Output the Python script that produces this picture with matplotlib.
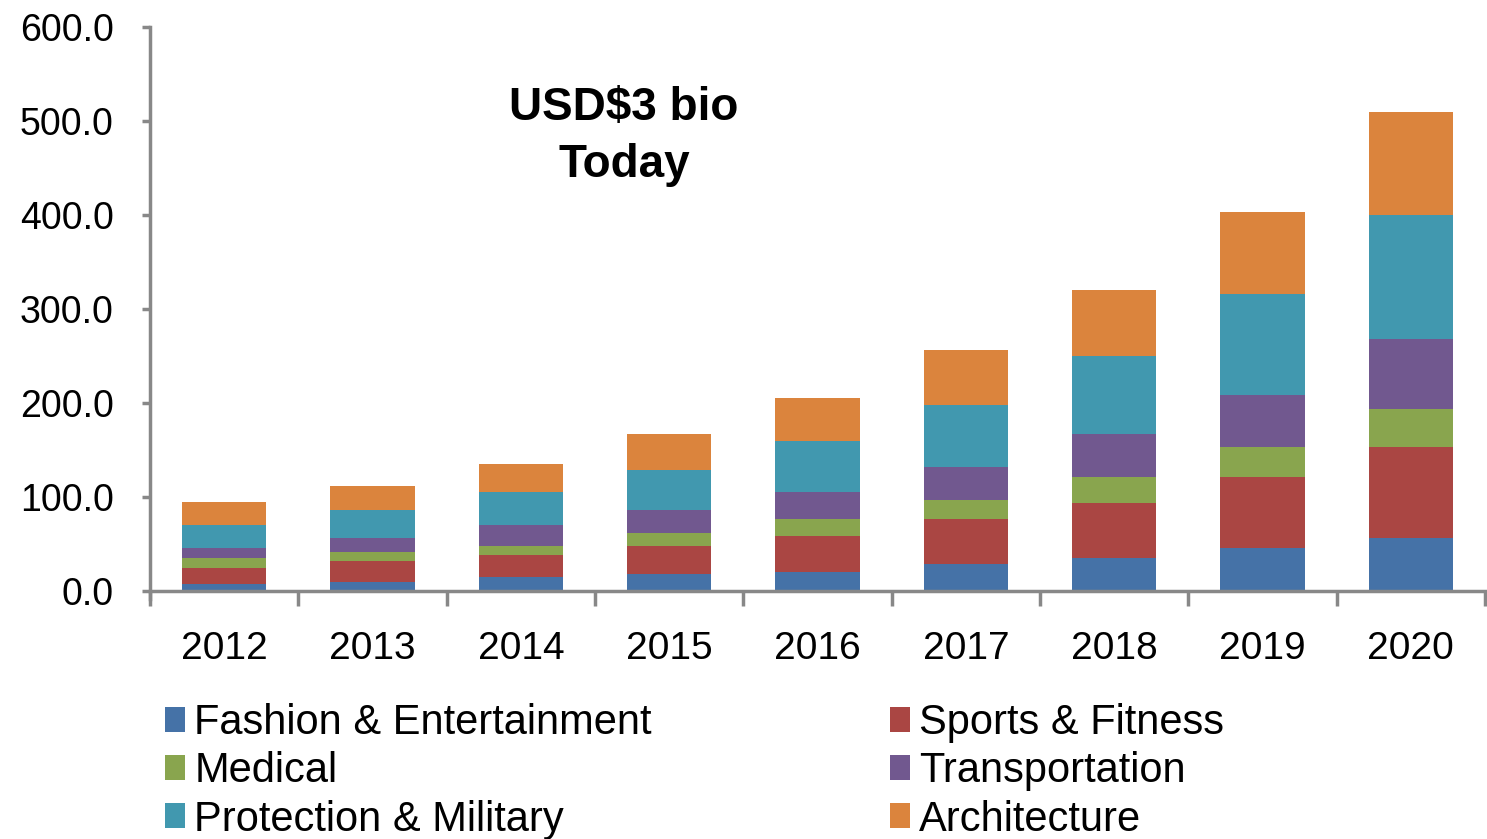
import matplotlib
matplotlib.use("Agg")
import matplotlib.pyplot as plt
from matplotlib.patches import Patch
import numpy as np

years = ["2012", "2013", "2014", "2015", "2016", "2017", "2018", "2019", "2020"]
series_names = ["Fashion & Entertainment", "Sports & Fitness", "Medical",
                "Transportation", "Protection & Military", "Architecture"]
fashion = [7.8, 10.1, 14.4, 17.6, 20.7, 28.2, 34.9, 45.5, 56.2]
sports = [16.7, 21.3, 24.4, 30.8, 38.3, 47.9, 59.2, 76.3, 96.5]
medical = [10.6, 10.6, 9.6, 13.8, 17.1, 21.2, 27.7, 30.9, 41.4]
transport = [10.6, 13.9, 21.3, 24.5, 28.7, 35.1, 45.0, 55.6, 73.5]
protection = [24.5, 30.8, 35.1, 41.8, 55.3, 66.0, 83.0, 108.0, 131.9]
architecture = [24.5, 24.5, 30.8, 38.0, 44.7, 58.5, 69.9, 86.4, 110.6]
y_ticks = [0, 100, 200, 300, 400, 500, 600]
title_text = "USD$3 bio\nToday"

colors = ["#4572A7", "#AA4643", "#89A54E", "#71588F", "#4198AF", "#DB843D"]
data = [fashion, sports, medical, transport, protection, architecture]

plt.rcParams['font.family'] = ['Liberation Sans', 'DejaVu Sans']

fig = plt.figure(figsize=(14.87, 8.39), dpi=100)
ax = fig.add_axes([150/1487, 1-591/839, 1335/1487, (591-27)/839])

x = np.arange(len(years))
bottom = np.zeros(len(years))
for vals, c, name in zip(data, colors, series_names):
    ax.bar(x, vals, width=0.57, bottom=bottom, color=c, label=name, zorder=2)
    bottom += np.array(vals)

axis_col = "#888888"
ax.set_xlim(-0.5, len(years) - 0.5)
for s in ["top", "right"]:
    ax.spines[s].set_visible(False)
for s in ["left", "bottom"]:
    ax.spines[s].set_color(axis_col)
    ax.spines[s].set_linewidth(2.5)
ax.spines["left"].set_bounds(-8, 600)
ax.set_ylim(0, 600)
ax.spines["left"].set_zorder(3)

ax.set_yticks(y_ticks)
ax.set_yticklabels([f"{v:.1f}" for v in y_ticks])
ax.tick_params(axis="y", direction="out", length=6, width=2.5, color=axis_col,
               labelsize=27, pad=20)
ax.set_xticks(x)
ax.set_xticklabels(years)
ax.set_xticks(np.arange(-0.5, len(years)), minor=True)
ax.tick_params(axis="x", which="major", length=0, labelsize=28, pad=29)
ax.tick_params(axis="x", which="minor", direction="out", length=11, width=2.5,
               color=axis_col)

ax.text(0.355, 0.806, title_text, transform=ax.transAxes, ha="center", va="center",
        fontsize=33, fontweight="bold", linespacing=1.4)

handles = [Patch(facecolor=c, edgecolor="none") for c in colors]
left_idx = [0, 2, 4]
right_idx = [1, 3, 5]
common = dict(frameon=False, fontsize=30, handlelength=0.48, handleheight=0.55,
              handletextpad=0.22, labelspacing=0.2, borderaxespad=0, borderpad=0)
leg1 = fig.legend([handles[i] for i in left_idx], [series_names[i] for i in left_idx],
                  loc="upper left", bbox_to_anchor=(165/1487, 1-703/839), **common)
leg2 = fig.legend([handles[i] for i in right_idx], [series_names[i] for i in right_idx],
                  loc="upper left", bbox_to_anchor=(890/1487, 1-703/839), **common)

fig.savefig("out.png", dpi=100)
